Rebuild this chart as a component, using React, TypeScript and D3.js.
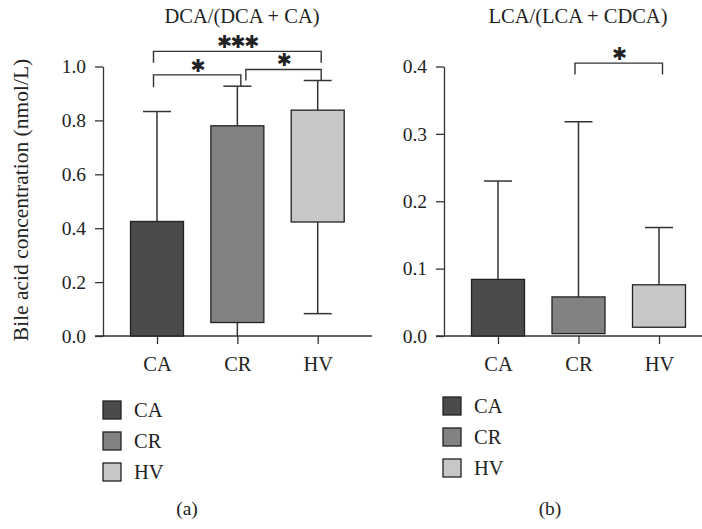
import React, { useEffect, useRef } from 'react';
import * as d3 from 'd3';

const groups = ['CA', 'CR', 'HV'];
const groupColors = ['#4b4b49', '#828282', '#c6c7c6'];

// panel (a) DCA/(DCA + CA)
const dcaBoxLow = [0, 0.05, 0.423];
const dcaBoxHigh = [0.425, 0.78, 0.838];
const dcaMin = [0, 0, 0.083];
const dcaMax = [0.833, 0.927, 0.948];
const dcaTicks = [0, 0.2, 0.4, 0.6, 0.8, 1.0];

// panel (b) LCA/(LCA + CDCA)
const lcaBoxLow = [0, 0.0035, 0.013];
const lcaBoxHigh = [0.084, 0.058, 0.076];
const lcaMin = [0, 0.0035, 0.013];
const lcaMax = [0.23, 0.318, 0.161];
const lcaTicks = [0, 0.1, 0.2, 0.3, 0.4];

// significance brackets: level of bar, leg ends
const dcaSig = [
  { from: 'CA', to: 'HV', level: 1.056, legFrom: 1.014, legTo: 1.014, label: '***' },
  { from: 'CA', to: 'CR', level: 0.969, legFrom: 0.923, legTo: 0.927, label: '*' },
  { from: 'CR', to: 'HV', level: 0.989, legFrom: 0.948, legTo: 0.948, label: '*' },
];
const lcaSig = [
  { from: 'CR', to: 'HV', level: 0.405, legFrom: 0.388, legTo: 0.388, label: '*' },
];

const FONT = '"Liberation Serif", "Times New Roman", serif';

const App = () => {
  const svgRef = useRef<SVGSVGElement>(null);

  useEffect(() => {
    const svg = d3.select(svgRef.current);
    svg.selectAll('*').remove();

    const drawPanel = (opts: any) => {
      const { x0, x1, axisX, xStart, xEnd, domainMax, ticks, fmt, low, high, mn, mx, sig, title, titleX, legendX, legendY, tag, tagX } = opts;
      const x = d3.scalePoint<string>().domain(groups).range([x0, x1]);
      const y = d3.scaleLinear().domain([0, domainMax]).range([336, 66.5]);
      const g = svg.append('g');

      // y axis
      const ya = g.append('g')
        .attr('transform', `translate(${axisX},0)`)
        .call(d3.axisLeft(y).tickValues(ticks).tickSize(8).tickSizeOuter(0).tickPadding(9).tickFormat(fmt));
      ya.select('.domain').attr('stroke', '#333').attr('stroke-width', 1.3);
      ya.selectAll('.tick line').attr('stroke', '#333').attr('stroke-width', 1.3);
      ya.selectAll('.tick text').attr('font-family', FONT).attr('font-size', 19.5).attr('fill', '#222');

      // x axis
      g.append('line')
        .attr('x1', xStart).attr('x2', xEnd).attr('y1', y(0)).attr('y2', y(0))
        .attr('stroke', '#333').attr('stroke-width', 1.3);
      const xa = g.append('g')
        .attr('transform', `translate(0,${y(0)})`)
        .call(d3.axisBottom(x).tickSize(8).tickSizeOuter(0).tickPadding(12));
      xa.select('.domain').remove();
      xa.selectAll('.tick line').attr('stroke', '#333').attr('stroke-width', 1.3);
      xa.selectAll('.tick text').attr('font-family', FONT).attr('font-size', 20.5).attr('fill', '#222');

      const bw = 53;
      const cap = 14;
      groups.forEach((gr, i) => {
        const cx = x(gr) as number;
        // whiskers
        g.append('line').attr('x1', cx).attr('x2', cx).attr('y1', y(high[i])).attr('y2', y(mx[i]))
          .attr('stroke', '#333').attr('stroke-width', 1.5);
        g.append('line').attr('x1', cx - cap).attr('x2', cx + cap).attr('y1', y(mx[i])).attr('y2', y(mx[i]))
          .attr('stroke', '#333').attr('stroke-width', 1.5);
        if (mn[i] < low[i]) {
          g.append('line').attr('x1', cx).attr('x2', cx).attr('y1', y(low[i])).attr('y2', y(mn[i]))
            .attr('stroke', '#333').attr('stroke-width', 1.5);
          if (mn[i] > 0) {
            g.append('line').attr('x1', cx - cap).attr('x2', cx + cap).attr('y1', y(mn[i])).attr('y2', y(mn[i]))
              .attr('stroke', '#333').attr('stroke-width', 1.5);
          }
        }
        g.append('rect')
          .attr('x', cx - bw / 2).attr('width', bw)
          .attr('y', y(high[i])).attr('height', y(low[i]) - y(high[i]))
          .attr('fill', groupColors[i]).attr('stroke', '#222').attr('stroke-width', 1.3);
      });

      // significance brackets
      sig.forEach((s: any) => {
        const xa0 = (x(s.from) as number) - 3.5;
        const xa1 = (x(s.to) as number) + 3.5;
        const xl = s.from === 'CR' && s.to === 'HV' && sig.length > 1 ? (x(s.from) as number) + 8.5 : xa0;
        g.append('path')
          .attr('d', `M${xl},${y(s.legFrom)}V${y(s.level)}H${xa1}V${y(s.legTo)}`)
          .attr('fill', 'none').attr('stroke', '#333').attr('stroke-width', 1.4);
        g.append('text')
          .attr('x', (xl + xa1) / 2).attr('y', y(s.level) - 3)
          .attr('text-anchor', 'middle')
          .attr('font-family', '"DejaVu Sans", sans-serif').attr('font-size', 18)
          .attr('fill', '#222').attr('letter-spacing', -1.5)
          .text(s.label.replace(/\*/g, '\u2731'));
      });

      // title
      svg.append('text')
        .attr('x', titleX).attr('y', 23).attr('text-anchor', 'middle')
        .attr('font-family', FONT).attr('font-size', 20.5).attr('fill', '#222')
        .text(title);

      // legend
      groups.forEach((gr, i) => {
        const ly = legendY + i * 31;
        svg.append('rect').attr('x', legendX).attr('y', ly).attr('width', 18).attr('height', 18)
          .attr('fill', groupColors[i]).attr('stroke', '#222').attr('stroke-width', 1.3);
        svg.append('text').attr('x', legendX + 31).attr('y', ly + 16)
          .attr('font-family', FONT).attr('font-size', 20.5).attr('fill', '#222').text(gr);
      });

      svg.append('text').attr('x', tagX).attr('y', 515).attr('text-anchor', 'middle')
        .attr('font-family', FONT).attr('font-size', 19.5).attr('fill', '#222').text(tag);
    };

    drawPanel({
      x0: 157, x1: 317.7, axisX: 103, xStart: 95, xEnd: 372, domainMax: 1.0,
      ticks: dcaTicks, fmt: d3.format('.1f'),
      low: dcaBoxLow, high: dcaBoxHigh, mn: dcaMin, mx: dcaMax, sig: dcaSig,
      title: 'DCA/(DCA + CA)', titleX: 242, legendX: 103, legendY: 401, tag: '(a)', tagX: 187,
    });
    drawPanel({
      x0: 498, x1: 659, axisX: 444, xStart: 436, xEnd: 702, domainMax: 0.4,
      ticks: lcaTicks, fmt: d3.format('.1f'),
      low: lcaBoxLow, high: lcaBoxHigh, mn: lcaMin, mx: lcaMax, sig: lcaSig,
      title: 'LCA/(LCA + CDCA)', titleX: 578, legendX: 443, legendY: 397, tag: '(b)', tagX: 550,
    });

    svg.append('text')
      .attr('transform', 'translate(28,200) rotate(-90)')
      .attr('text-anchor', 'middle')
      .attr('font-family', FONT).attr('font-size', 21.5).attr('fill', '#222')
      .text('Bile acid concentration (nmol/L)');
  }, []);

  return (
    <div style={{ position: 'absolute', left: 0, top: 0 }}>
      <svg ref={svgRef} width={702} height={529} style={{ display: 'block', background: '#fff' }} />
    </div>
  );
};

export default App;
